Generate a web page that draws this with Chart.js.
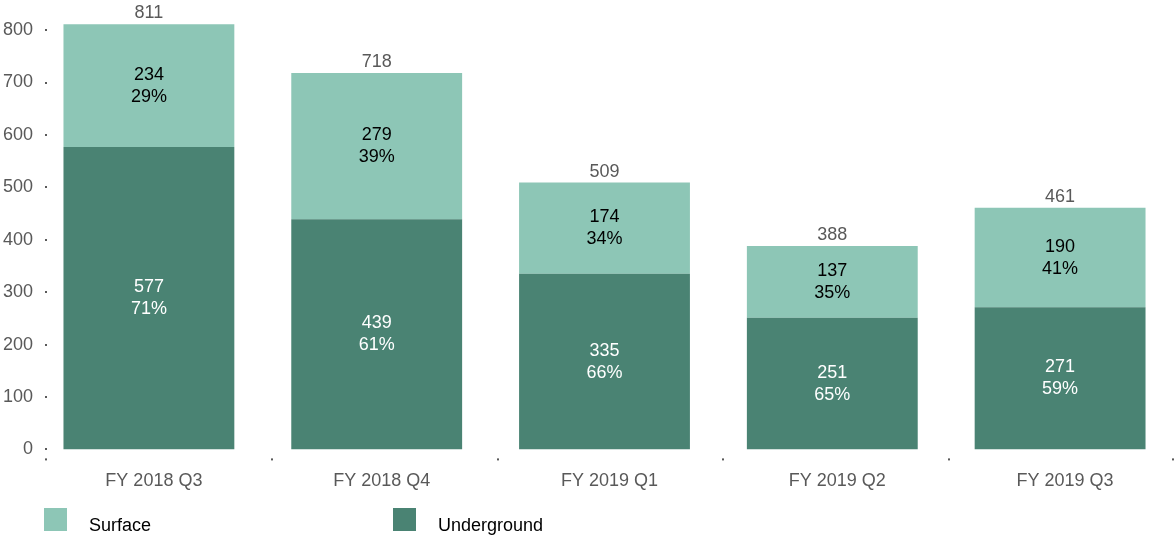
<!DOCTYPE html>
<html>
<head>
<meta charset="utf-8">
<script src="https://cdn.jsdelivr.net/npm/chart.js@4"></script>
<style>
  body { margin: 0; background: #fff; font-family: "Liberation Sans", Arial, sans-serif; }
  #wrap { position: relative; width: 1174px; height: 536px; }
  #legend { position: absolute; left: 0; top: 508px; width: 1174px; height: 24px; }
  .item { position: absolute; top: 0; height: 23px; font-size: 18px; color: #000; }
  .box { position: absolute; left: 0; top: 0; width: 23px; height: 23px; }
  .item span { position: absolute; left: 45px; top: 7px; white-space: nowrap; }
</style>
</head>
<body>
<div id="wrap">
  <canvas id="myChart" width="1174" height="536"></canvas>
  <div id="legend"></div>
</div>
<script>
var categories = ["FY 2018 Q3", "FY 2018 Q4", "FY 2019 Q1", "FY 2019 Q2", "FY 2019 Q3"];
var underground = [577, 439, 335, 251, 271];
var surface = [234, 279, 174, 137, 190];
var totals = [811, 718, 509, 388, 461];
var undergroundPct = [71, 61, 66, 65, 59];
var surfacePct = [29, 39, 34, 35, 41];
var yTicks = [0, 100, 200, 300, 400, 500, 600, 700, 800];

var lightGreen = "#8dc6b6";
var darkGreen = "#4a8373";
var grey = "#595959";
var fontFam = "'Liberation Sans', Arial, sans-serif";

// small dots instead of axis lines, plus the value labels
var labelPlugin = {
  id: "labels",
  afterDatasetsDraw: function(chart) {
    var ctx = chart.ctx;
    var area = chart.chartArea;
    var ys = chart.scales.y;
    var axisX = area.left + 10;
    ctx.save();
    ctx.fillStyle = grey;
    ys.ticks.forEach(function(t) {
      var py = Math.round(ys.getPixelForValue(t.value));
      ctx.fillRect(axisX, py - 1, 2, 2);
    });
    var step = (area.right - axisX) / categories.length;
    for (var i = 0; i <= categories.length; i++) {
      var px = Math.round(axisX + i * step);
      if (px >= chart.width - 1) px = chart.width - 2;
      ctx.fillRect(px, area.bottom + 9, 2, 2);
    }

    ctx.font = "18px " + fontFam;
    ctx.textAlign = "center";
    ctx.textBaseline = "middle";
    var groups = [
      { ds: 0, vals: underground, pct: undergroundPct, color: "#ffffff" },
      { ds: 1, vals: surface, pct: surfacePct, color: "#000000" }
    ];
    groups.forEach(function(g) {
      var meta = chart.getDatasetMeta(g.ds);
      meta.data.forEach(function(bar, i) {
        var cy = (bar.y + bar.base) / 2;
        ctx.fillStyle = g.color;
        ctx.fillText(String(g.vals[i]), bar.x, cy - 11);
        ctx.fillText(g.pct[i] + "%", bar.x, cy + 11);
      });
    });
    var topMeta = chart.getDatasetMeta(1);
    ctx.fillStyle = grey;
    topMeta.data.forEach(function(bar, i) {
      ctx.fillText(String(totals[i]), bar.x, bar.y - 11);
    });
    ctx.restore();
  }
};

var chart = new Chart("myChart", {
  type: "bar",
  data: {
    labels: categories,
    datasets: [
      { label: "Underground", data: underground, backgroundColor: darkGreen },
      { label: "Surface", data: surface, backgroundColor: lightGreen }
    ]
  },
  options: {
    responsive: false,
    animation: false,
    events: [],
    layout: { padding: { left: 0, right: 0, top: 0, bottom: 23 } },
    datasets: { bar: { categoryPercentage: 1, barPercentage: 0.75 } },
    plugins: { legend: { display: false }, tooltip: { enabled: false } },
    scales: {
      x: {
        stacked: true,
        grid: { display: false, drawTicks: false },
        border: { display: false },
        ticks: { color: grey, padding: 21, labelOffset: 5, maxRotation: 0,
                 font: { size: 18, family: fontFam } }
      },
      y: {
        stacked: true,
        min: 0,
        max: 833,
        grid: { display: false, drawTicks: false },
        border: { display: false },
        afterBuildTicks: function(scale) {
          scale.ticks = yTicks.map(function(v) { return { value: v }; });
        },
        afterFit: function(scale) { scale.width = 35; },
        ticks: { color: grey, padding: 2, font: { size: 18, family: fontFam } }
      }
    }
  },
  plugins: [labelPlugin]
});

// legend: Surface first, as in the original
var legendItems = [
  { text: "Surface", color: lightGreen, left: 44 },
  { text: "Underground", color: darkGreen, left: 393 }
];
var legend = document.getElementById("legend");
legendItems.forEach(function(it) {
  var d = document.createElement("div");
  d.className = "item";
  d.style.left = it.left + "px";
  d.innerHTML = '<div class="box" style="background:' + it.color + '"></div><span>' + it.text + '</span>';
  legend.appendChild(d);
});
</script>
</body>
</html>
